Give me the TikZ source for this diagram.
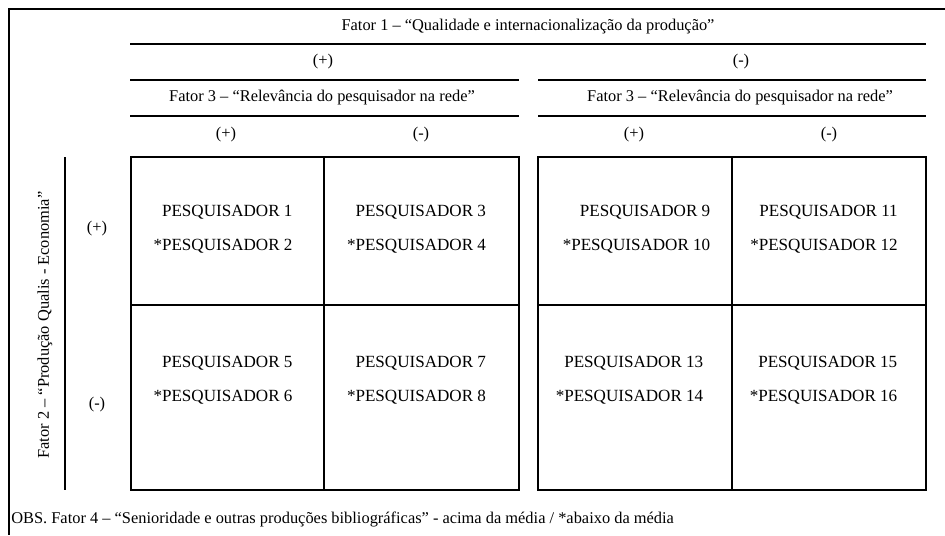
\documentclass[tikz,border=0pt]{standalone}
\usepackage{fontspec}
\setmainfont{Liberation Serif}
\usetikzlibrary{positioning}

\begin{document}
\begin{tikzpicture}[
  x=0.75pt,y=-0.75pt,
  every node/.style={font=\fontsize{12.3}{14}\selectfont,inner sep=0pt},
  rule/.style={line width=1.5pt},
  grid/.style={line width=1.6pt},
  names/.style={align=right,font=\fontsize{12.8}{25.5}\selectfont}
]
\useasboundingbox (0,0) rectangle (945,535);

% frame
\draw[rule] (945,9) -- (9,9) -- (9,535);

% header
\node (F1) at (528,27) {Fator 1 -- ``Qualidade e internacionaliza\c{c}\~ao da produ\c{c}\~ao''};
\draw[rule] (130,44) -- (926,44);
\node (F1p) at (323,62) {(+)};
\node (F1m) at (741,62) {(-)};
\draw[rule] (130,80) -- (519,80);
\draw[rule] (538,80) -- (926,80);
\node (F3a) at (322,98) {Fator 3 -- ``Relev\^ancia do pesquisador na rede''};
\node (F3b) at (740,98) {Fator 3 -- ``Relev\^ancia do pesquisador na rede''};
\draw[rule] (130,116) -- (519,116);
\draw[rule] (538,116) -- (926,116);
\node (F3ap) at (226,135) {(+)};
\node (F3am) at (421,135) {(-)};
\node (F3bp) at (634,135) {(+)};
\node (F3bm) at (829,135) {(-)};

% side
\draw[rule] (65,157) -- (65,490);
\node[rotate=90] (F2) at (45,325) {Fator 2 -- ``Produ\c{c}\~ao Qualis - Economia''};
\node (F2p) at (97,229) {(+)};
\node (F2m) at (97,405) {(-)};

% grid
\draw[grid] (131,157) rectangle (519,490);
\draw[grid] (324,157) -- (324,490);
\draw[grid] (131,305) -- (519,305);
\draw[grid] (538,157) rectangle (926,490);
\draw[grid] (732,157) -- (732,490);
\draw[grid] (538,305) -- (926,305);

% researchers
\node[names] (P1)  at (223,229)   {PESQUISADOR 1\\*PESQUISADOR 2};
\node[names] (P3)  at (416.5,229) {PESQUISADOR 3\\*PESQUISADOR 4};
\node[names] (P9)  at (636.5,229) {PESQUISADOR 9\\*PESQUISADOR 10};
\node[names] (P11) at (824,229)   {PESQUISADOR 11\\*PESQUISADOR 12};
\node[names] (P5)  at (223,380)   {PESQUISADOR 5\\*PESQUISADOR 6};
\node[names] (P7)  at (416.5,380) {PESQUISADOR 7\\*PESQUISADOR 8};
\node[names] (P13) at (629.5,380) {PESQUISADOR 13\\*PESQUISADOR 14};
\node[names] (P15) at (823.5,380) {PESQUISADOR 15\\*PESQUISADOR 16};

% note
\node[anchor=west] (obs) at (11,519) {OBS. Fator 4 -- ``Senioridade e outras produ\c{c}\~oes bibliogr\'aficas'' - acima da m\'edia / *abaixo da m\'edia};
\end{tikzpicture}
\end{document}
